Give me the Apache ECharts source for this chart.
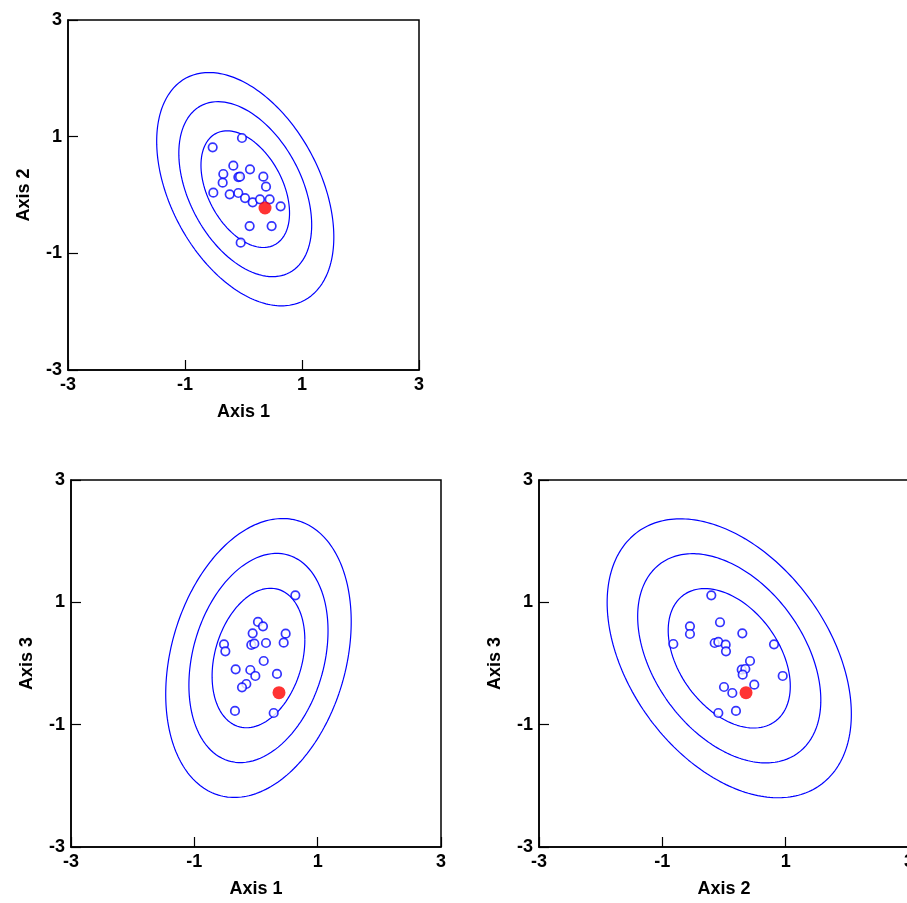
<!DOCTYPE html>
<html>
<head>
<meta charset="utf-8">
<script src="https://cdn.jsdelivr.net/npm/echarts@6/dist/echarts.min.js"></script>
<style>
html,body{margin:0;padding:0;background:#fff;}
#chart{width:907px;height:903px;}
</style>
</head>
<body>
<div id="chart"></div>
<script>
// ---- data ----
const tickValues = [-3, -1, 1, 3];
const axisNames = ['Axis 1', 'Axis 2', 'Axis 3'];
const contourLevels = [1, 1.5, 2];

// Panel A: Axis 1 (x) vs Axis 2 (y)
const a_x = [-0.026, -0.527, -0.174, 0.111, -0.345, -0.088, -0.060, 0.339, -0.356, 0.385, -0.516, -0.236, -0.089, 0.026, 0.157, 0.282, 0.447, 0.635, 0.105, 0.481, -0.048];
const a_y = [0.977, 0.817, 0.502, 0.440, 0.360, 0.308, 0.314, 0.314, 0.211, 0.143, 0.040, 0.012, 0.034, -0.052, -0.126, -0.074, -0.074, -0.194, -0.532, -0.532, -0.818];
const a_red = [0.368, -0.223];
const a_ell = [0.03, 0.10, 0.757, 1.00, -0.41]; // centre x, centre y, sd x, sd y, correlation

// Panel B: Axis 1 (x) vs Axis 3 (y)
const b_x = [0.638, 0.032, 0.113, -0.054, 0.481, -0.519, -0.076, -0.027, 0.162, 0.449, -0.497, 0.125, -0.330, -0.092, -0.011, 0.340, -0.157, -0.227, -0.341, 0.287];
const b_y = [1.115, 0.679, 0.608, 0.494, 0.487, 0.314, 0.303, 0.324, 0.335, 0.340, 0.199, 0.041, -0.095, -0.106, -0.204, -0.171, -0.335, -0.389, -0.776, -0.809];
const b_red = [0.373, -0.477];
const b_ell = [0.04, 0.09, 0.752, 1.14, 0.26];

// Panel C: Axis 2 (x) vs Axis 3 (y)
const c_x = [-0.206, -0.065, -0.552, -0.552, 0.297, -0.822, -0.151, -0.092, 0.027, 0.811, 0.032, 0.422, 0.287, 0.346, 0.303, 0.952, 0.000, 0.135, 0.491, 0.194, -0.092];
const c_y = [1.115, 0.674, 0.608, 0.482, 0.494, 0.319, 0.335, 0.352, 0.308, 0.314, 0.199, 0.041, -0.101, -0.090, -0.183, -0.204, -0.384, -0.482, -0.346, -0.776, -0.809];
const c_red = [0.357, -0.477];
const c_ell = [0.085, 0.085, 0.99, 1.14, -0.40];

// ---- build ----
const BLUE = '#0000ff';
const FONT = "'Liberation Sans', Arial, sans-serif";

function ellipsePath(p, r) {
  const [cx, cy, sx, sy, rho] = p;
  const pts = [];
  const n = 240;
  const q = Math.sqrt(1 - rho * rho);
  for (let i = 0; i <= n; i++) {
    const t = 2 * Math.PI * i / n;
    pts.push([cx + r * sx * Math.cos(t), cy + r * sy * (rho * Math.cos(t) + q * Math.sin(t))]);
  }
  return pts;
}

const panels = [
  {grid: {left: 68, top: 20, width: 351, height: 350}, xs: a_x, ys: a_y, red: a_red, ell: a_ell, xn: axisNames[0], yn: axisNames[1]},
  {grid: {left: 71, top: 480, width: 370, height: 367}, xs: b_x, ys: b_y, red: b_red, ell: b_ell, xn: axisNames[0], yn: axisNames[2]},
  {grid: {left: 539, top: 480, width: 370, height: 367}, xs: c_x, ys: c_y, red: c_red, ell: c_ell, xn: axisNames[1], yn: axisNames[2]}
];

const grids = [], xAxes = [], yAxes = [], series = [];
panels.forEach((p, i) => {
  grids.push(Object.assign({show: true, borderColor: '#000', borderWidth: 1.5, backgroundColor: '#fff',
    containLabel: false, outerBoundsMode: 'none'}, p.grid));
  const common = {
    type: 'value', gridIndex: i, min: -3, max: 3,
    axisLine: {show: true, onZero: false, lineStyle: {color: '#000', width: 1.5}},
    axisTick: {show: true, inside: true, length: 10, customValues: tickValues, lineStyle: {color: '#000', width: 1.2}},
    axisLabel: {customValues: tickValues, color: '#000', fontSize: 18, fontWeight: 'bold', fontFamily: FONT, margin: 6},
    splitLine: {show: false},
    nameLocation: 'middle',
    nameTextStyle: {color: '#000', fontSize: 18, fontWeight: 'bold', fontFamily: FONT}
  };
  xAxes.push(Object.assign({}, common, {position: 'bottom', name: p.xn, nameGap: 33}));
  yAxes.push(Object.assign({}, common, {position: 'left', name: p.yn, nameGap: 35}));
  contourLevels.forEach(r => {
    series.push({type: 'line', xAxisIndex: i, yAxisIndex: i, data: ellipsePath(p.ell, r), showSymbol: false, symbol: 'none',
      lineStyle: {color: BLUE, width: 1.2}, silent: true, z: 2});
  });
  series.push({type: 'scatter', xAxisIndex: i, yAxisIndex: i, data: p.xs.map((x, k) => [x, p.ys[k]]),
    symbol: 'circle', symbolSize: 8.5, itemStyle: {color: '#fff', borderColor: BLUE, borderWidth: 1.7}, z: 3});
  series.push({type: 'scatter', xAxisIndex: i, yAxisIndex: i, data: [p.red],
    symbol: 'circle', symbolSize: 13, itemStyle: {color: '#ff0000'}, z: 4});
});

const chart = echarts.init(document.getElementById('chart'), null, {renderer: 'canvas'});
chart.setOption({
  animation: false,
  backgroundColor: '#fff',
  grid: grids, xAxis: xAxes, yAxis: yAxes, series: series
});
</script>
</body>
</html>
